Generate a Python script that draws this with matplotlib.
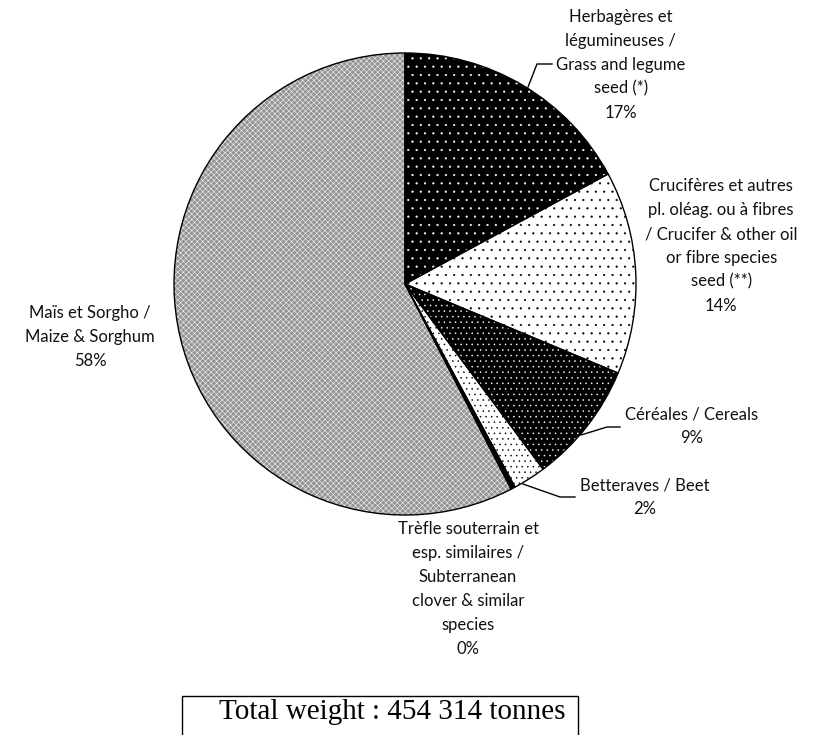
import matplotlib.pyplot as plt
from matplotlib.patches import Rectangle
from matplotlib.lines import Line2D

plt.rcParams['hatch.linewidth'] = 0.35

# data
labels = [
    "Herbagères et\nlégumineuses /\nGrass and legume\nseed (*)\n17%",
    "Crucifères et autres\npl. oléag. ou à fibres\n/ Crucifer & other oil\nor fibre species\nseed (**)\n14%",
    "Céréales / Cereals\n9%",
    "Betteraves / Beet\n2%",
    "Trèfle souterrain et\nesp. similaires /\nSubterranean\nclover & similar\nspecies\n0%",
    "Maïs et Sorgho /\nMaize & Sorghum\n58%",
]
shares = [17.1, 14.2, 8.5, 2.3, 0.3, 57.6]
total_text = "Total weight : 454 314 tonnes"

# styles
faces = ["black", "white", "black", "white", "black", "#959595"]
hatch_cols = ["white", "black", "white", "black", "black", "white"]
hatches = ["..", "..", "...", "...", "", "xxxxxx"]

W, H = 814, 735
fig = plt.figure(figsize=(W / 100, H / 100), dpi=100)
ax = fig.add_axes([174 / W, 1 - 515 / H, 462 / W, 462 / H])

wedges, _ = ax.pie(shares, startangle=90, counterclock=False, colors=faces,
                   wedgeprops=dict(linewidth=0))
for w, hc, h in zip(wedges, hatch_cols, hatches):
    w.set_edgecolor(hc)
    w.set_hatch(h)
# outlines drawn on top
ax.pie(shares, startangle=90, counterclock=False,
       wedgeprops=dict(facecolor="none", edgecolor="black", linewidth=1.0))
ax.set_xlim(-1, 1)
ax.set_ylim(-1, 1)
ax.axis("off")

# label anchors in pixels: (x, y, horizontal alignment)
label_pos = [(556, 65, "left"), (645, 246, "left"), (625, 426, "left"),
             (580, 497, "left"), (468, 589, "center"), (90, 337, "center")]
for txt, (px, py, ha) in zip(labels, label_pos):
    fig.text(px / W, 1 - py / H, txt, ha=ha, va="center", multialignment="center",
             fontsize=12, family="Lato", linespacing=1.6, color="#111111")

# leader lines
leaders = [
    [(528, 87), (537, 64), (552, 64)],
    [(581, 435), (607, 427), (620, 427)],
    [(523, 484), (560, 497), (575, 497)],
]
for pts in leaders:
    xs = [p[0] / W for p in pts]
    ys = [1 - p[1] / H for p in pts]
    fig.add_artist(Line2D(xs, ys, color="black", linewidth=1.0,
                          transform=fig.transFigure))

# total box
fig.add_artist(Rectangle((182 / W, -0.05), 396 / W, 0.05 + 1 - 696 / H,
                         facecolor="white", edgecolor="black", linewidth=1.0,
                         transform=fig.transFigure))
fig.text(392 / W, 1 - 712 / H, total_text, ha="center", va="center",
         fontsize=21, family="Liberation Serif")

fig.savefig("out.png", dpi=100)
